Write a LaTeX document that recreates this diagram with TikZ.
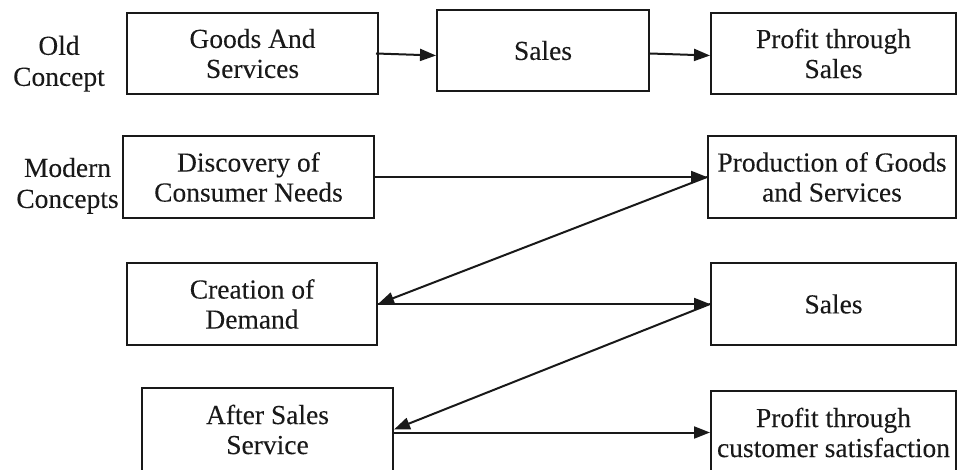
\documentclass[tikz,border=0pt]{standalone}
\usepackage{fontspec}
\setmainfont{Liberation Serif}[FakeBold=0.1]
\usetikzlibrary{arrows.meta}
\begin{document}
\begin{tikzpicture}[x=1pt,y=-1pt,
  box/.style={draw=black!90, line width=2pt, rectangle, inner sep=0pt, align=center,
    font=\fontsize{27.5}{30}\selectfont, text=black!90},
  lbl/.style={inner sep=0pt, align=center, font=\fontsize{27.5}{31}\selectfont, text=black!90},
  conn/.style={draw=black!90, line width=2pt, -{Triangle[length=16pt,width=12pt]}}]
\useasboundingbox (0,0) rectangle (957,470);
\clip (0,0) rectangle (957,470);
% left labels
\node[lbl] (old) at (59,63.7) {Old\\Concept};
\node[lbl] (mod) at (67.5,185.8) {Modern\\Concepts};
% old concept row
\node[box, minimum width=251pt, minimum height=81pt] (A) at (252.5,53.5) {Goods And\\Services};
\node[box, minimum width=212pt, minimum height=81pt] (B) at (543,50.5) {Sales};
\node[box, minimum width=245pt, minimum height=81pt] (C) at (833.5,53.5) {Profit through\\Sales};
% modern concept
\node[box, minimum width=251pt, minimum height=82pt] (D) at (248.5,177) {Discovery of\\Consumer Needs};
\node[box, minimum width=248pt, minimum height=82pt] (E) at (832,177) {Production of Goods\\and Services};
\node[box, minimum width=250pt, minimum height=82pt] (F) at (252,304) {Creation of\\Demand};
\node[box, minimum width=245pt, minimum height=82pt] (G) at (833.5,304) {Sales};
\node[box, minimum width=251pt, minimum height=83pt] (H) at (267.5,429.5) {After Sales\\Service};
\node[box, minimum width=245pt, minimum height=83pt] (I) at (833.5,432.5) {Profit through\\customer satisfaction};
% connectors
\draw[conn] ([xshift=-3pt]A.east) -- ([yshift=-5pt]B.west);
\draw[conn] ([yshift=-3pt]B.east) -- ([yshift=-2pt]C.west);
\draw[conn] (D.east) -- (E.west);
\draw[conn] (E.west) -- (F.east);
\draw[conn] (F.east) -- (G.west);
\draw[conn] (G.west) -- (H.east);
\draw[conn] (H.east |- I.west) -- (I.west);
\end{tikzpicture}
\end{document}
